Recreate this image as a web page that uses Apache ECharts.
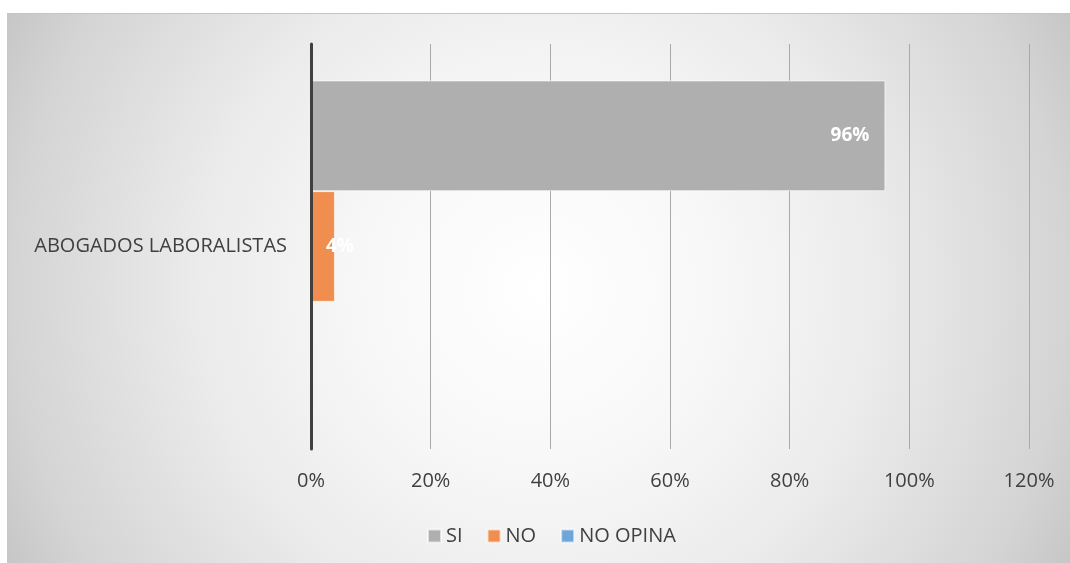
<!DOCTYPE html>
<html>
<head>
<meta charset="utf-8">
<script src="https://cdn.jsdelivr.net/npm/echarts@6/dist/echarts.min.js"></script>
<style>
  html, body { margin: 0; padding: 0; background: #fff; }
  #wrap {
    position: absolute; left: 7px; top: 13px; width: 1063px; height: 550px;
    border-top: 1px solid #c4c4c4; border-left: 1px solid #c8c8c8; box-sizing: border-box;
  }
  #chart { width: 100%; height: 100%; }
</style>
</head>
<body>
<div id="wrap"><div id="chart"></div></div>
<script>
const categories = ["ABOGADOS LABORALISTAS"];
const seriesNames = ["SI", "NO", "NO OPINA"];
const siValues = [0.96];
const noValues = [0.04];
const noOpinaValues = [0];
const xTicks = [0, 0.2, 0.4, 0.6, 0.8, 1.0, 1.2];

const colors = ["#afafaf", "#ef8e4e", "#6fa6da"];
const FONT = "'Open Sans', sans-serif";
const pct = (v) => Math.round(v * 100) + "%";

const chart = echarts.init(document.getElementById("chart"));

function barSeries(name, data, color, label) {
  return {
    name,
    type: "bar",
    data,
    barGap: "0%",
    barCategoryGap: "18%",
    itemStyle: { color, borderColor: "rgba(255,255,255,0.6)", borderWidth: 1 },
    label: Object.assign({
      show: true,
      color: "#fff",
      fontFamily: FONT,
      fontWeight: "bold",
      fontSize: 19,
      formatter: (p) => pct(p.value)
    }, label)
  };
}

chart.setOption({
  backgroundColor: {
    type: "radial", x: 0.5, y: 0.5, r: 1.13,
    colorStops: [
      { offset: 0, color: "#ffffff" },
      { offset: 0.3, color: "#f7f7f7" },
      { offset: 0.55, color: "#ebebeb" },
      { offset: 0.85, color: "#d4d4d4" },
      { offset: 1, color: "#c2c2c2" }
    ]
  },
  animation: false,
  grid: { left: 303, right: 41, top: 30, bottom: 114, containLabel: false },
  legend: {
    bottom: 12,
    left: 414,
    itemWidth: 13,
    itemHeight: 13,
    itemGap: 24,
    icon: "rect",
    textStyle: { color: "#404040", fontFamily: FONT, fontSize: 20 },
    data: seriesNames
  },
  xAxis: {
    type: "value",
    min: 0,
    max: 1.2,
    interval: 0.2,
    axisLine: { show: false },
    axisTick: { show: false },
    axisLabel: {
      color: "#404040",
      fontFamily: FONT,
      fontSize: 20,
      margin: 22,
      customValues: xTicks,
      formatter: pct
    },
    splitLine: { lineStyle: { color: "#a9a9a9", width: 1 } }
  },
  yAxis: {
    type: "category",
    inverse: true,
    z: 5,
    data: categories,
    axisLine: { lineStyle: { color: "#404040", width: 3 } },
    axisTick: { show: false },
    axisLabel: { color: "#404040", fontFamily: FONT, fontSize: 20, margin: 24 }
  },
  series: [
    barSeries(seriesNames[0], siValues, colors[0], { position: "insideRight", distance: 16 }),
    barSeries(seriesNames[1], noValues, colors[1], { position: [15, "50%"], align: "left", verticalAlign: "middle" }),
    barSeries(seriesNames[2], noOpinaValues, colors[2], { show: false })
  ]
});
</script>
</body>
</html>
